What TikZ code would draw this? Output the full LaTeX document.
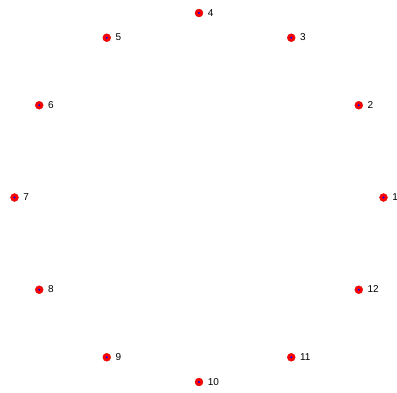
\documentclass[tikz,border=0pt]{standalone}
\usepackage{fontspec}
\setmainfont{Liberation Sans}
\begin{document}
\begin{tikzpicture}[x=1pt,y=-1pt,
  dotnode/.style={circle,fill=red,draw=red!80!black,line width=0.3pt,inner sep=0pt,minimum size=8pt},
  lbl/.style={anchor=west,inner sep=0pt,font=\fontsize{10}{11}\selectfont}]
\useasboundingbox (0,0) rectangle (397,392);
\foreach \i in {1,...,12}{
  \pgfmathsetmacro{\ang}{(\i-1)*30}
  \node[dotnode] (p\i) at ({199+184.5*cos(\ang)},{197.5-184.5*sin(\ang)}) {};
  \fill[blue] (p\i.center) circle (1.2pt);
  \node[lbl] (t\i) at ([xshift=4.5pt,yshift=0.3pt]p\i.east) {\i};
}
\end{tikzpicture}
\end{document}
